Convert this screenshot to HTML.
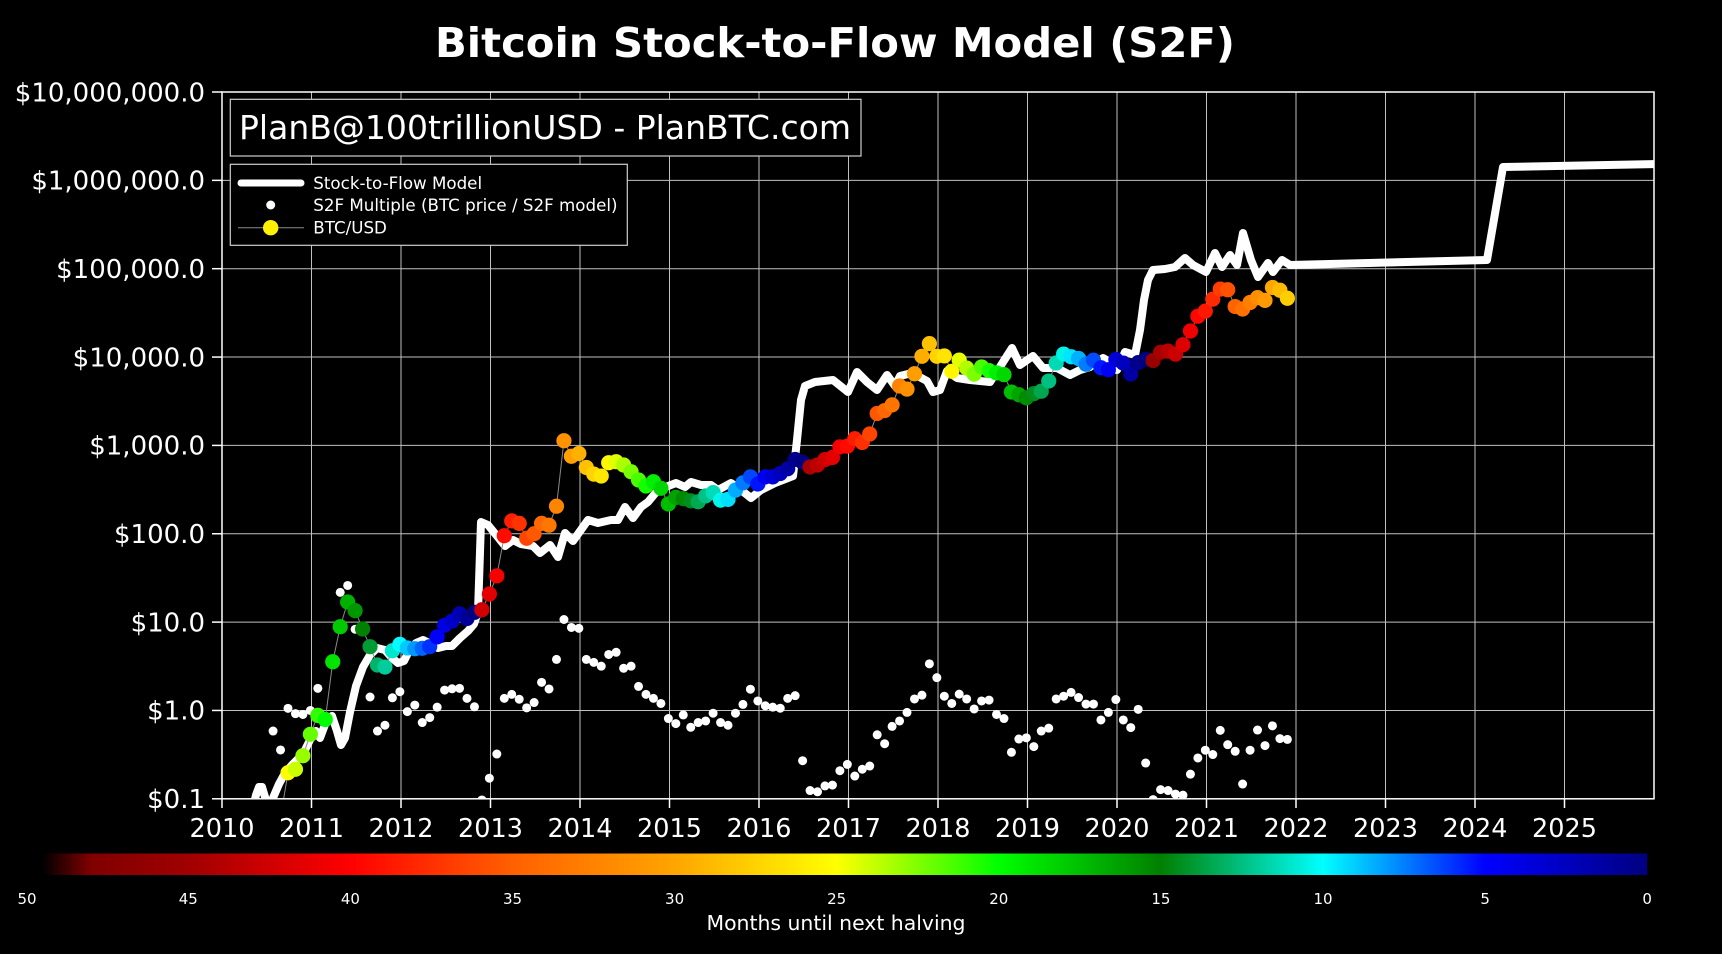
<!DOCTYPE html>
<html>
<head>
<meta charset="utf-8">
<style>
  html,body{margin:0;padding:0;background:#000;}
  svg{display:block;}
  text{font-family:"DejaVu Sans","Liberation Sans",sans-serif;fill:#fff;}
</style>
</head>
<body>
<svg id="chart" xmlns="http://www.w3.org/2000/svg" width="1722" height="954" viewBox="0 0 1722 954">
  <defs>
    <clipPath id="pc"><rect x="222" y="92" width="1432" height="706.8"/></clipPath>
    <linearGradient id="cbg" x1="0" x2="1" y1="0" y2="0">
      <stop offset="0" stop-color="#000000"/>
      <stop offset="0.01" stop-color="#000000"/>
      <stop offset="0.04" stop-color="#800000"/>
      <stop offset="0.10" stop-color="#a00000"/>
      <stop offset="0.20" stop-color="#ff0000"/>
      <stop offset="0.30" stop-color="#ff6000"/>
      <stop offset="0.40" stop-color="#ffa500"/>
      <stop offset="0.50" stop-color="#ffff00"/>
      <stop offset="0.60" stop-color="#00ff00"/>
      <stop offset="0.70" stop-color="#008000"/>
      <stop offset="0.80" stop-color="#00ffff"/>
      <stop offset="0.90" stop-color="#0000ff"/>
      <stop offset="1" stop-color="#000080"/>
    </linearGradient>
  </defs>
  <rect x="0" y="0" width="1722" height="954" fill="#000"/>

  <!-- Title -->
  <text x="435" y="57" font-size="41" font-weight="bold" textLength="800" lengthAdjust="spacingAndGlyphs">Bitcoin Stock-to-Flow Model (S2F)</text>

  <!-- Grid -->
  <g stroke="#c0c0c0" stroke-width="1" fill="none">
    <line x1="311.5" y1="92" x2="311.5" y2="798.8"/>
    <line x1="401" y1="92" x2="401" y2="798.8"/>
    <line x1="490.5" y1="92" x2="490.5" y2="798.8"/>
    <line x1="580" y1="92" x2="580" y2="798.8"/>
    <line x1="669.5" y1="92" x2="669.5" y2="798.8"/>
    <line x1="759" y1="92" x2="759" y2="798.8"/>
    <line x1="848.5" y1="92" x2="848.5" y2="798.8"/>
    <line x1="938" y1="92" x2="938" y2="798.8"/>
    <line x1="1027.5" y1="92" x2="1027.5" y2="798.8"/>
    <line x1="1117" y1="92" x2="1117" y2="798.8"/>
    <line x1="1206.5" y1="92" x2="1206.5" y2="798.8"/>
    <line x1="1296" y1="92" x2="1296" y2="798.8"/>
    <line x1="1385.5" y1="92" x2="1385.5" y2="798.8"/>
    <line x1="1475" y1="92" x2="1475" y2="798.8"/>
    <line x1="1564.5" y1="92" x2="1564.5" y2="798.8"/>
    <line x1="222" y1="710.45" x2="1654" y2="710.45"/>
    <line x1="222" y1="622.1" x2="1654" y2="622.1"/>
    <line x1="222" y1="533.75" x2="1654" y2="533.75"/>
    <line x1="222" y1="445.4" x2="1654" y2="445.4"/>
    <line x1="222" y1="357.05" x2="1654" y2="357.05"/>
    <line x1="222" y1="268.7" x2="1654" y2="268.7"/>
    <line x1="222" y1="180.35" x2="1654" y2="180.35"/>
  </g>

  <!-- Stock-to-Flow model line -->
  <g clip-path="url(#pc)">
    <path fill="none" stroke="#fff" stroke-width="8" stroke-linejoin="round"
      d="M252,812 L256,795 L259,787 L262,787 L265,797 L268,812 L270,812 L273,798 L279,784 L285,773 L292,765 L299,758 L305,750 L311,738 L316,731 L320,738 L326,722 L332,716 L337,731 L341,745 L345,738 L350,712 L356,686 L363,667 L370,655 L377,648 L385,650 L392,658 L398,663 L404,661 L409,651 L416,643 L423,640 L431,644 L438,648 L446,646 L452,646 L460,638 L468,631 L474,624 L478,612 L481,522 L488,525 L497,536 L505,546 L513,540 L521,544 L533,546 L540,553 L550,545 L558,557 L565,533 L573,541 L588,520 L598,523 L611,520 L618,520 L625,507 L633,518 L641,507 L648,502 L658,490 L676,483 L685,487 L691,482 L701,485 L711,485 L718,490 L731,483 L741,490 L751,498 L761,490 L775,483 L788,478 L793,476 L797,440 L801,400 L805,386 L815,382 L833,380 L848,392 L857,372 L867,382 L877,390 L887,375 L895,386 L900,376 L912,373 L927,381 L933,392 L940,390 L947,371 L957,378 L970,380 L990,382 L998,370 L1012,348 L1020,365 L1033,356 L1043,368 L1057,368 L1070,375 L1080,370 L1090,367 L1103,358 L1110,362 L1117,370 L1125,352 L1135,355 L1140,330 L1144,300 L1148,280 L1153,270 L1165,269 L1175,267 L1185,258 L1193,265 L1206,272 L1215,253 L1222,267 L1230,255 L1237,265 L1243,233 L1251,260 L1258,277 L1268,263 L1273,272 L1282,260 L1290,265 L1487,260 L1503,167 L1660,164"/>
    <g id="multg" fill="#fff"></g>
    <polyline id="btcline" fill="none" stroke="#8a8a8a" stroke-width="1" points=""/>
    <g id="btcg"></g>
  </g>

  <!-- Spines -->
  <rect x="222" y="92" width="1432" height="706.8" fill="none" stroke="#fff" stroke-width="1.5"/>

  <!-- Ticks -->
  <g stroke="#fff" stroke-width="1.5">
    <line x1="212" y1="92" x2="222" y2="92"/>
    <line x1="212" y1="180.35" x2="222" y2="180.35"/>
    <line x1="212" y1="268.7" x2="222" y2="268.7"/>
    <line x1="212" y1="357.05" x2="222" y2="357.05"/>
    <line x1="212" y1="445.4" x2="222" y2="445.4"/>
    <line x1="212" y1="533.75" x2="222" y2="533.75"/>
    <line x1="212" y1="622.1" x2="222" y2="622.1"/>
    <line x1="212" y1="710.45" x2="222" y2="710.45"/>
    <line x1="212" y1="798.8" x2="222" y2="798.8"/>
    <line x1="222" y1="798.8" x2="222" y2="808"/>
    <line x1="311.5" y1="798.8" x2="311.5" y2="808"/>
    <line x1="401" y1="798.8" x2="401" y2="808"/>
    <line x1="490.5" y1="798.8" x2="490.5" y2="808"/>
    <line x1="580" y1="798.8" x2="580" y2="808"/>
    <line x1="669.5" y1="798.8" x2="669.5" y2="808"/>
    <line x1="759" y1="798.8" x2="759" y2="808"/>
    <line x1="848.5" y1="798.8" x2="848.5" y2="808"/>
    <line x1="938" y1="798.8" x2="938" y2="808"/>
    <line x1="1027.5" y1="798.8" x2="1027.5" y2="808"/>
    <line x1="1117" y1="798.8" x2="1117" y2="808"/>
    <line x1="1206.5" y1="798.8" x2="1206.5" y2="808"/>
    <line x1="1296" y1="798.8" x2="1296" y2="808"/>
    <line x1="1385.5" y1="798.8" x2="1385.5" y2="808"/>
    <line x1="1475" y1="798.8" x2="1475" y2="808"/>
    <line x1="1564.5" y1="798.8" x2="1564.5" y2="808"/>
  </g>

  <!-- Y tick labels -->
  <g font-size="26" text-anchor="end">
    <text x="205" y="101.3">$10,000,000.0</text>
    <text x="205" y="189.6">$1,000,000.0</text>
    <text x="205" y="278">$100,000.0</text>
    <text x="205" y="366.3">$10,000.0</text>
    <text x="205" y="454.7">$1,000.0</text>
    <text x="205" y="543">$100.0</text>
    <text x="205" y="631.4">$10.0</text>
    <text x="205" y="719.7">$1.0</text>
    <text x="205" y="808.1">$0.1</text>
  </g>

  <!-- X tick labels -->
  <g font-size="25.5" text-anchor="middle">
    <text x="222" y="837">2010</text>
    <text x="311.5" y="837">2011</text>
    <text x="401" y="837">2012</text>
    <text x="490.5" y="837">2013</text>
    <text x="580" y="837">2014</text>
    <text x="669.5" y="837">2015</text>
    <text x="759" y="837">2016</text>
    <text x="848.5" y="837">2017</text>
    <text x="938" y="837">2018</text>
    <text x="1027.5" y="837">2019</text>
    <text x="1117" y="837">2020</text>
    <text x="1206.5" y="837">2021</text>
    <text x="1296" y="837">2022</text>
    <text x="1385.5" y="837">2023</text>
    <text x="1475" y="837">2024</text>
    <text x="1564.5" y="837">2025</text>
  </g>

  <!-- PlanB text box -->
  <rect x="230.3" y="99.3" width="630.7" height="56.7" fill="#000" stroke="#cfcfcf" stroke-width="1.2"/>
  <text x="239" y="139" font-size="33" textLength="612" lengthAdjust="spacingAndGlyphs">PlanB@100trillionUSD - PlanBTC.com</text>

  <!-- Legend -->
  <rect x="230.3" y="164.3" width="397" height="81" fill="#000" stroke="#cfcfcf" stroke-width="1.2"/>
  <line x1="241" y1="183" x2="301" y2="183" stroke="#fff" stroke-width="7" stroke-linecap="round"/>
  <circle cx="270.7" cy="205" r="4.5" fill="#fff"/>
  <line x1="238" y1="227.7" x2="304" y2="227.7" stroke="#8a8a8a" stroke-width="1"/>
  <circle cx="270.7" cy="227.7" r="7.7" fill="#fff200"/>
  <g font-size="16.7">
    <text x="313.3" y="188.8">Stock-to-Flow Model</text>
    <text x="313.3" y="211">S2F Multiple (BTC price / S2F model)</text>
    <text x="313.3" y="233.3">BTC/USD</text>
  </g>

  <!-- Colorbar -->
  <rect x="26.2" y="853.5" width="1621" height="21.5" fill="url(#cbg)"/>
  <g font-size="15" text-anchor="middle">
    <text x="27" y="904">50</text>
    <text x="188.3" y="904">45</text>
    <text x="350.4" y="904">40</text>
    <text x="512.5" y="904">35</text>
    <text x="674.6" y="904">30</text>
    <text x="836.7" y="904">25</text>
    <text x="998.8" y="904">20</text>
    <text x="1160.9" y="904">15</text>
    <text x="1323" y="904">10</text>
    <text x="1485.1" y="904">5</text>
    <text x="1647.2" y="904">0</text>
  </g>
  <text x="836" y="930" font-size="20.4" text-anchor="middle">Months until next halving</text>
</svg>

<script>
(function(){
  var NS="http://www.w3.org/2000/svg";
  var price=[0.06,0.062,
    0.197,0.216,0.307,0.537,0.88,0.79,3.56,8.87,16.9,13.5,8.36,5.27,3.27,3.1,4.74,5.6,5.1,5.0,5.05,5.27,6.8,9.2,10.3,12.4,11,12.9,
    13.8,20.8,33.4,95,140,131,89,100,131,125,205,1130,754,810,562,473,450,637,654,600,504,406,347,388,327,
    217,258,250,236,230,268,292,240,245,312,377,440,366,440,440,480,545,694,645,570,600,690,730,963,
    980,1190,1080,1348,2300,2480,2875,4700,4340,6470,10200,14200,10200,10300,6900,9240,7500,6400,7730,7030,6625,6320,4017,3742,
    3457,3854,4105,5350,8574,10817,10085,9630,8293,9199,7569,7193,9350,8544,6438,8658,9461,9137,11323,11681,10785,13800,19700,29000,
    33100,45200,58800,57800,37300,35000,41500,47100,43800,61300,57000,46300];
  var mult=[0.585,0.357,
    1.056,0.92,0.90,1.0,1.78,null,null,21.7,26,8.3,null,1.42,0.585,0.68,1.39,1.63,0.97,1.15,0.73,0.83,1.09,1.70,1.76,1.78,1.37,1.10,
    0.097,0.171,0.321,1.37,1.52,1.34,1.07,1.23,2.08,1.75,3.78,10.7,8.7,8.5,3.78,3.5,3.17,4.3,4.55,3.0,3.17,1.87,1.52,1.37,1.2,
    0.81,0.71,0.89,0.645,0.73,0.76,0.93,0.73,0.68,0.93,1.17,1.74,1.28,1.13,1.09,1.06,1.37,1.47,0.27,0.124,0.12,0.14,0.143,0.208,
    0.245,0.181,0.216,0.235,0.53,0.42,0.66,0.76,0.95,1.35,1.49,3.37,2.35,1.45,1.2,1.53,1.35,1.04,1.28,1.31,0.9,0.81,0.336,0.475,
    0.49,0.39,0.585,0.63,1.35,1.45,1.6,1.4,1.18,1.18,0.78,0.95,1.33,0.78,0.64,1.03,0.254,0.098,0.127,0.124,0.113,0.11,0.19,0.29,
    0.355,0.317,0.595,0.41,0.345,0.147,0.355,0.6,0.40,0.67,0.48,0.47];
  function yv(v){return 798.8-(Math.log(v)/Math.LN10+1)*88.35;}
  function xi(i){return 288+i*7.458;}
  var H=[2012.90,2016.52,2020.36,2024.30];
  var stops=[[50,[0,0,0]],[49.5,[0,0,0]],[48,[128,0,0]],[45,[160,0,0]],[40,[255,0,0]],[35,[255,96,0]],[30,[255,165,0]],[25,[255,255,0]],[20,[0,255,0]],[15,[0,128,0]],[10,[0,255,255]],[5,[0,0,255]],[0,[0,0,128]]];
  function cmap(m){
    m=Math.max(0,Math.min(50,m));
    for(var k=0;k<stops.length-1;k++){
      var a=stops[k],b=stops[k+1];
      if(m<=a[0]&&m>=b[0]){
        var f=(a[0]-m)/(a[0]-b[0]);
        var c=[0,1,2].map(function(j){return Math.round(a[1][j]+(b[1][j]-a[1][j])*f);});
        return "rgb("+c.join(",")+")";
      }
    }
    return "#000";
  }
  function months(i){
    var t=2010.737+i/12;
    for(var k=0;k<H.length;k++){ if(H[k]>t) return Math.max(0,(H[k]-t)*12-1); }
    return 0;
  }
  var mg=document.getElementById("multg");
  var bg=document.getElementById("btcg");
  var pl=document.getElementById("btcline");
  var pts=[];
  for(var n=0;n<mult.length;n++){
    var i=n-2;
    if(mult[n]==null) continue;
    var c=document.createElementNS(NS,"circle");
    c.setAttribute("cx",xi(i).toFixed(2));
    c.setAttribute("cy",yv(mult[n]).toFixed(2));
    c.setAttribute("r","4.5");
    mg.appendChild(c);
  }
  for(var n=0;n<price.length;n++){
    var i=n-2;
    pts.push(xi(i).toFixed(2)+","+yv(price[n]).toFixed(2));
  }
  pl.setAttribute("points",pts.join(" "));
  for(var n=0;n<price.length;n++){
    var i=n-2;
    var c=document.createElementNS(NS,"circle");
    c.setAttribute("cx",xi(i).toFixed(2));
    c.setAttribute("cy",yv(price[n]).toFixed(2));
    c.setAttribute("r","7.6");
    c.setAttribute("fill",cmap(months(i)));
    bg.appendChild(c);
  }
})();
</script>
</body>
</html>
